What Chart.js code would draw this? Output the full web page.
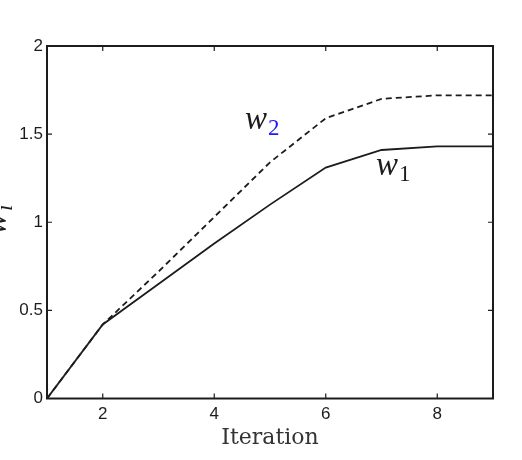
<!DOCTYPE html>
<html>
<head>
<meta charset="utf-8">
<script src="https://cdn.jsdelivr.net/npm/chart.js@4"></script>
<style>
  html, body { margin: 0; padding: 0; background: #fff; }
  #wrap { width: 522px; height: 460px; position: relative; }
</style>
</head>
<body>
<div id="wrap"><canvas id="c" width="522" height="460"></canvas></div>
<script>
// values
const iterations = [1, 2, 3, 4, 5, 6, 7, 8, 9];
const w1 = [0, 0.42, 0.65, 0.88, 1.10, 1.31, 1.41, 1.43, 1.43];
const w2 = [0, 0.42, 0.72, 1.03, 1.34, 1.59, 1.70, 1.72, 1.72];
const xTicks = [2, 4, 6, 8];
const yTicks = [0, 0.5, 1, 1.5, 2];
const yTickLabels = ['0', '0.5', '1', '1.5', '2'];

const ink = '#1c1c1c';
const tickFont = { family: 'Liberation Sans', size: 17 };

const toPoints = (ys) => ys.map((y, i) => ({ x: iterations[i], y }));

// box round the plot with little inward ticks on all four sides
const frame = {
  id: 'frame',
  afterDatasetsDraw(chart) {
    const { ctx, chartArea: a, scales: { x, y } } = chart;
    ctx.save();
    ctx.strokeStyle = ink;
    ctx.lineWidth = 2;
    ctx.strokeRect(a.left, a.top, a.right - a.left, a.bottom - a.top);
    ctx.lineWidth = 1.2;
    ctx.beginPath();
    xTicks.forEach(v => {
      const px = x.getPixelForValue(v);
      ctx.moveTo(px, a.bottom); ctx.lineTo(px, a.bottom - 5);
      ctx.moveTo(px, a.top); ctx.lineTo(px, a.top + 5);
    });
    yTicks.forEach(v => {
      const py = y.getPixelForValue(v);
      ctx.moveTo(a.left, py); ctx.lineTo(a.left + 5, py);
      ctx.moveTo(a.right, py); ctx.lineTo(a.right - 5, py);
    });
    ctx.stroke();
    ctx.restore();
  }
};

// w_1, w_2 labels next to the curves and the clipped w_i axis label
function sub(ctx, base, s, x, y, color) {
  ctx.font = 'italic 33px "Liberation Serif"';
  ctx.fillStyle = ink;
  ctx.fillText(base, x, y);
  const w = ctx.measureText(base).width;
  ctx.font = '23px "Liberation Serif"';
  ctx.fillStyle = color;
  ctx.fillText(s, x + w + 1, y + 6);
}
const labels = {
  id: 'labels',
  afterDraw(chart) {
    const { ctx, scales: { x, y } } = chart;
    ctx.save();
    ctx.textBaseline = 'alphabetic';
    ctx.textAlign = 'left';
    sub(ctx, 'w', '2', x.getPixelForValue(4.55), y.getPixelForValue(1.53), '#1a1aff');
    sub(ctx, 'w', '1', x.getPixelForValue(6.9), y.getPixelForValue(1.27), ink);
    ctx.translate(6, 235);
    ctx.rotate(-Math.PI / 2);
    ctx.font = 'italic 33px "Liberation Serif"';
    ctx.fillStyle = ink;
    ctx.fillText('w', 0, 0);
    ctx.font = 'italic 23px "Liberation Serif"';
    ctx.fillText('i', 24, 6);
    ctx.restore();
  }
};

new Chart(document.getElementById('c'), {
  type: 'line',
  data: {
    datasets: [
      { label: 'w1', data: toPoints(w1), borderColor: ink, borderWidth: 1.8,
        pointRadius: 0, tension: 0, fill: false },
      { label: 'w2', data: toPoints(w2), borderColor: ink, borderWidth: 1.8,
        borderDash: [6, 4], pointRadius: 0, tension: 0, fill: false }
    ]
  },
  options: {
    responsive: false,
    animation: false,
    events: [],
    layout: { padding: { top: 46, right: 29, left: 0, bottom: 0 } },
    plugins: { legend: { display: false }, tooltip: { enabled: false } },
    scales: {
      x: {
        type: 'linear', min: 1, max: 9,
        afterBuildTicks: s => { s.ticks = xTicks.map(v => ({ value: v })); },
        afterFit: s => { s.height = 61.5; },
        grid: { display: false, drawTicks: false },
        border: { display: false },
        ticks: { font: tickFont, color: ink, padding: 6, maxRotation: 0 },
        title: { display: true, text: 'Iteration', color: '#333',
          font: { family: 'DejaVu Serif', size: 22 }, padding: { top: 0, bottom: 9 } }
      },
      y: {
        min: 0, max: 2,
        afterBuildTicks: s => { s.ticks = yTicks.map(v => ({ value: v })); },
        afterFit: s => { s.width = 47; },
        grid: { display: false, drawTicks: false },
        border: { display: false },
        ticks: { font: tickFont, color: ink, padding: 4,
          callback: (v) => yTickLabels[yTicks.indexOf(v)] }
      }
    }
  },
  plugins: [frame, labels]
});
</script>
</body>
</html>
